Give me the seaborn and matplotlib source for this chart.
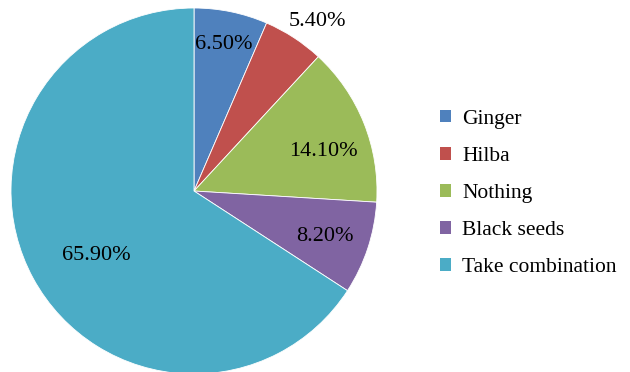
import matplotlib
matplotlib.use("Agg")
import matplotlib.pyplot as plt
import seaborn as sns
import numpy as np
from matplotlib.patches import Patch

categories = ["Ginger", "Hilba", "Nothing", "Black seeds", "Take combination"]
values = [6.5, 5.4, 14.1, 8.2, 65.9]
labels = ["6.50%", "5.40%", "14.10%", "8.20%", "65.90%"]
colors = ["#4F81BD", "#C0504D", "#9BBB59", "#8064A2", "#4BACC6"]
label_dist = [0.815, 1.145, 0.74, 0.755, 0.64]
label_angle_shift = [0, -3, -5, -1, 5]

sns.set_theme(style="white")
plt.rcParams["font.family"] = ["Liberation Serif", "DejaVu Serif"]
plt.rcParams["text.color"] = "black"
SERIF = "Liberation Serif"

W, H = 630, 372
fig = plt.figure(figsize=(W / 100, H / 100), dpi=100)
cx, cy, r = 194, 372 - 191, 183
ax = fig.add_axes([(cx - r) / W, (cy - r) / H, 2 * r / W, 2 * r / H])
wedges, _ = ax.pie(values, colors=colors, startangle=90, counterclock=False,
                   wedgeprops=dict(edgecolor="white", linewidth=0.6), radius=1.0)
ax.set_xlim(-1, 1)
ax.set_ylim(-1, 1)
ax.set_aspect("auto")
ax.axis("off")

for w, lab, d, s in zip(wedges, labels, label_dist, label_angle_shift):
    ang = np.deg2rad((w.theta1 + w.theta2) / 2 + s)
    ax.text(d * np.cos(ang), d * np.sin(ang), lab, ha="center", va="center",
            fontsize=16, color="black", family=SERIF)

handles = [Patch(facecolor=c, edgecolor="none") for c in colors]
fig.legend(handles, categories, loc="center left", bbox_to_anchor=(431 / W, 0.48),
           frameon=False, prop={"family": SERIF, "size": 15.5}, labelcolor="black",
           handlelength=0.55, handleheight=0.55, handletextpad=0.5,
           labelspacing=0.84, borderaxespad=0)

fig.savefig("out.png", dpi=100)
